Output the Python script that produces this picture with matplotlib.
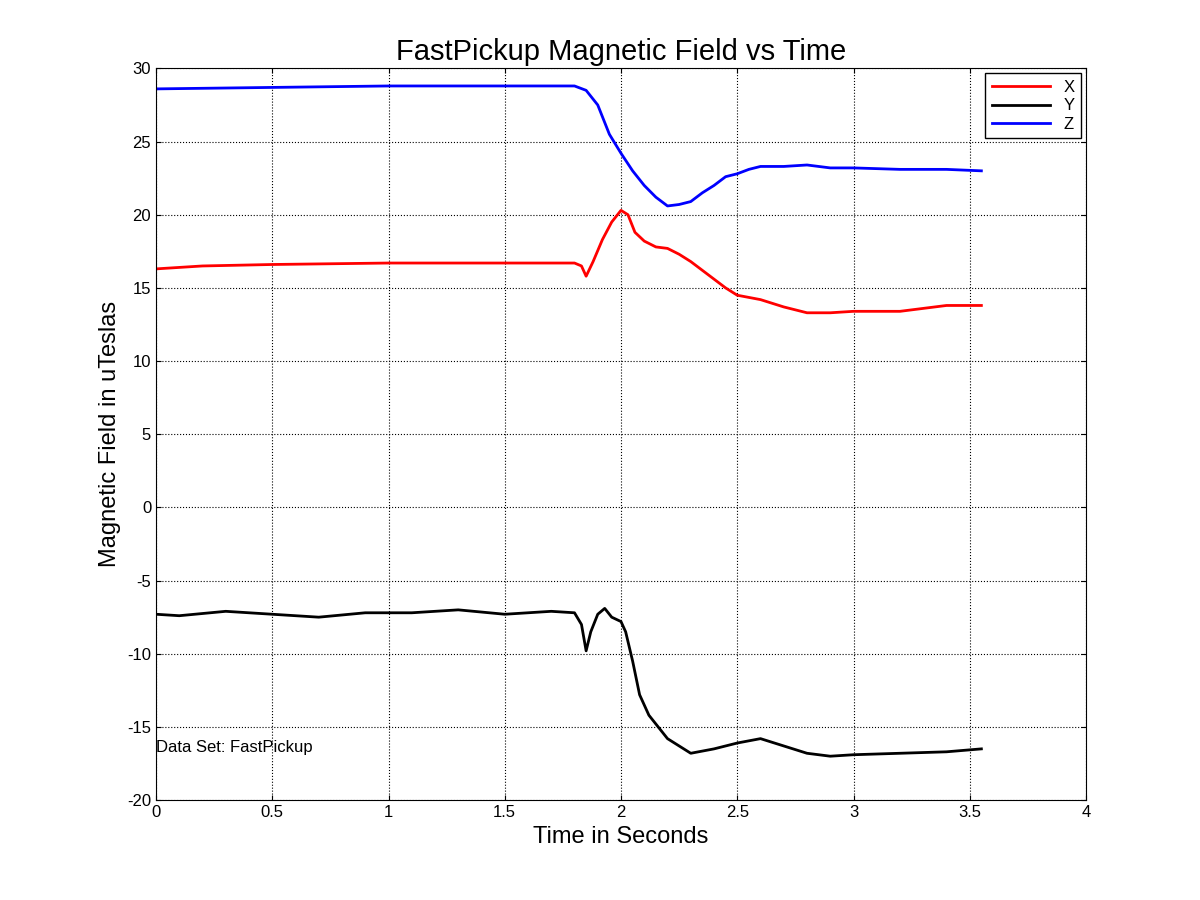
import matplotlib
matplotlib.use("Agg")
import matplotlib.pyplot as plt

plt.rcParams['font.family'] = ['Liberation Sans', 'DejaVu Sans']
plt.rcParams['axes.unicode_minus'] = False

# ---------------------
# Data
# ---------------------
t_x = [0, 0.2, 0.5, 1.0, 1.5, 1.8, 1.83, 1.85, 1.88, 1.92, 1.96, 2.0, 2.03, 2.06, 2.1,
       2.15, 2.2, 2.25, 2.3, 2.35, 2.4, 2.45, 2.5, 2.6, 2.7, 2.8, 2.9, 3.0, 3.2, 3.4, 3.55]
bx = [16.3, 16.5, 16.6, 16.7, 16.7, 16.7, 16.5, 15.8, 16.8, 18.3, 19.5, 20.3, 20.0, 18.8, 18.2,
      17.8, 17.7, 17.3, 16.8, 16.2, 15.6, 15.0, 14.5, 14.2, 13.7, 13.3, 13.3, 13.4, 13.4, 13.8, 13.8]

t_y = [0, 0.1, 0.3, 0.5, 0.7, 0.9, 1.1, 1.3, 1.5, 1.7, 1.8, 1.83, 1.85, 1.87, 1.9, 1.93, 1.96,
       2.0, 2.02, 2.05, 2.08, 2.12, 2.2, 2.3, 2.4, 2.5, 2.6, 2.7, 2.8, 2.9, 3.0, 3.2, 3.4, 3.55]
by = [-7.3, -7.4, -7.1, -7.3, -7.5, -7.2, -7.2, -7.0, -7.3, -7.1, -7.2, -8.0, -9.8, -8.5, -7.3,
      -6.9, -7.5, -7.8, -8.5, -10.5, -12.8, -14.2, -15.8, -16.8, -16.5, -16.1, -15.8, -16.3,
      -16.8, -17.0, -16.9, -16.8, -16.7, -16.5]

t_z = [0, 0.5, 1.0, 1.5, 1.8, 1.85, 1.9, 1.95, 2.0, 2.05, 2.1, 2.15, 2.2, 2.25, 2.3, 2.35,
       2.4, 2.45, 2.5, 2.55, 2.6, 2.7, 2.8, 2.9, 3.0, 3.2, 3.4, 3.55]
bz = [28.6, 28.7, 28.8, 28.8, 28.8, 28.5, 27.5, 25.5, 24.2, 23.0, 22.0, 21.2, 20.6, 20.7, 20.9,
      21.5, 22.0, 22.6, 22.8, 23.1, 23.3, 23.3, 23.4, 23.2, 23.2, 23.1, 23.1, 23.0]

# ---------------------
# Plot
# ---------------------
fig = plt.figure(figsize=(12, 9), dpi=100)
ax = fig.add_axes([0.13, 0.111, 0.775, 0.813])

ax.plot(t_x, bx, color="red", lw=2, label="X")
ax.plot(t_y, by, color="black", lw=2, label="Y")
ax.plot(t_z, bz, color="blue", lw=2, label="Z")

ax.set_xlim(0, 4)
ax.set_ylim(-20, 30)
ax.set_xticks([0, 0.5, 1, 1.5, 2, 2.5, 3, 3.5, 4])
ax.set_xticklabels(["0", "0.5", "1", "1.5", "2", "2.5", "3", "3.5", "4"])
ax.set_yticks(range(-20, 31, 5))
ax.tick_params(direction="in", top=True, right=True, labelsize=12)
ax.grid(True, color="black", linestyle=":", lw=0.8)

ax.set_title("FastPickup Magnetic Field vs Time", fontsize=21)
ax.set_xlabel("Time in Seconds", fontsize=17)
ax.set_ylabel("Magnetic Field in uTeslas", fontsize=17)
ax.text(0.0, -16.7, "Data Set: FastPickup", fontsize=12)

leg = ax.legend(loc="upper right", fontsize=12, fancybox=False, framealpha=1,
                edgecolor="black", borderaxespad=0.3, handlelength=3.5, labelspacing=0.2)

fig.savefig("out.png", dpi=100)
